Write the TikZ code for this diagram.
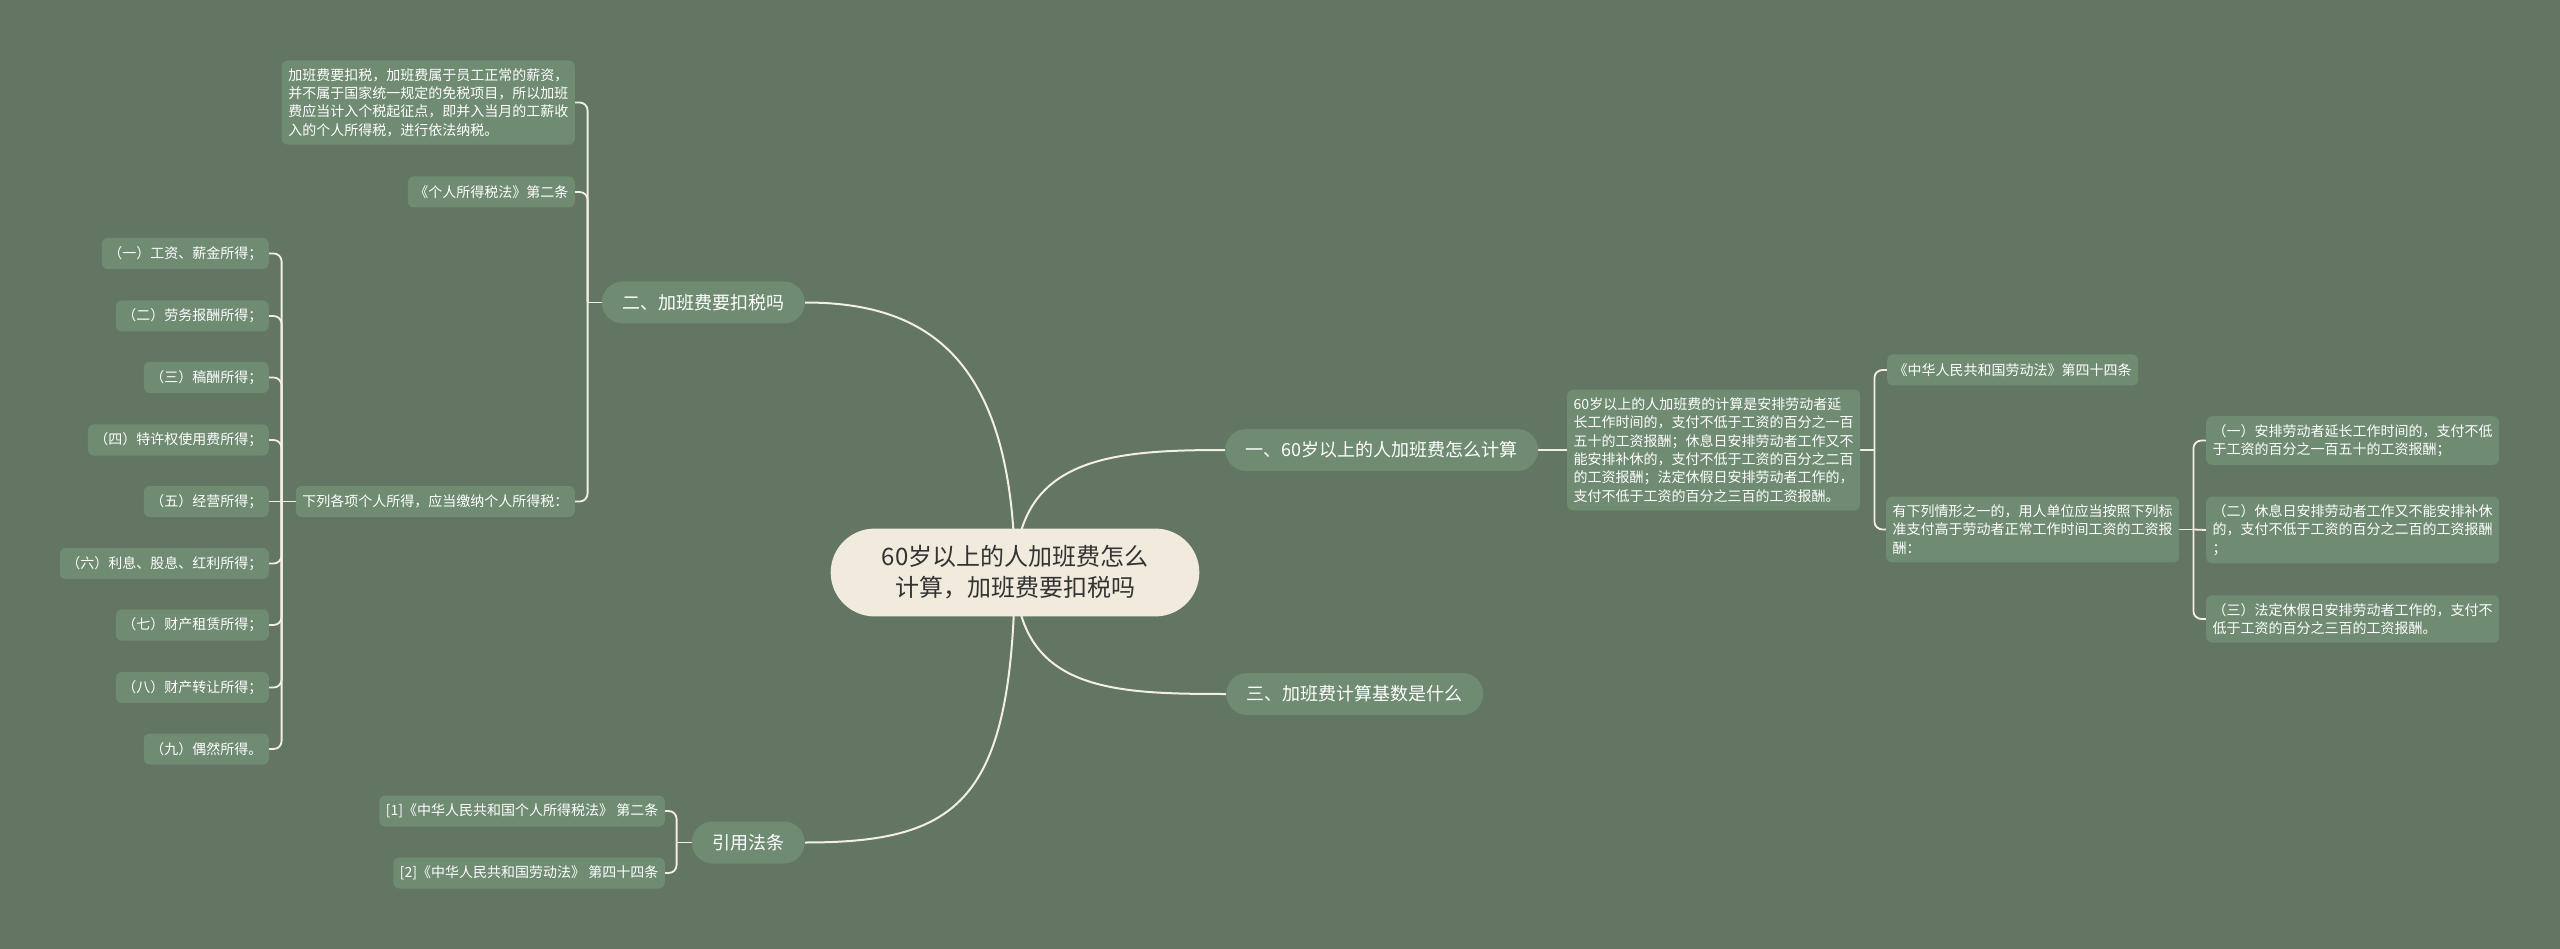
\documentclass[tikz,border=0pt]{standalone}
\usepackage{fontspec}
\newfontfamily\cjk{Noto Sans CJK SC}
\usetikzlibrary{calc}
\pgfdeclarelayer{canvas}
\pgfdeclarelayer{edges}
\pgfsetlayers{canvas,edges,main}
\definecolor{bgc}{HTML}{637664}
\definecolor{nodec}{HTML}{6F8B72}
\definecolor{rootc}{HTML}{F0EBDC}
\definecolor{linec}{HTML}{F3EFE2}
\definecolor{roottext}{HTML}{333333}
\tikzset{
  leaf/.style={fill=nodec, text=white, font=\cjk\fontsize{14pt}{18.3pt}\selectfont,
    rounded corners=6pt, inner xsep=6.5pt, inner ysep=8pt, align=left},
  single/.style={leaf, minimum height=31pt},
  branch/.style={fill=nodec, text=white, font=\cjk\fontsize{18pt}{22pt}\selectfont,
    rounded corners=21pt, inner xsep=20.5pt, inner ysep=0pt, minimum height=42pt},
  rootnode/.style={fill=rootc, text=roottext, font=\cjk\fontsize{24pt}{31pt}\selectfont,
    rounded corners=44pt, inner xsep=51pt, inner ysep=17pt, align=center},
  link/.style={draw=linec, line width=2pt},
  bracket/.style={draw=linec, line width=1.8pt, rounded corners=8pt},
}
\begin{document}
\begin{tikzpicture}[x=1pt,y=-1pt]
\useasboundingbox (0,0) rectangle (2560,949);
\begin{pgfonlayer}{canvas}
  \fill[bgc] (0,0) rectangle (2560,949);
\end{pgfonlayer}

% root and branches
\node[rootnode] (root) at (1015,572.5) {60岁以上的人加班费怎么\\计算，加班费要扣税吗};
\node[branch, anchor=east] (b2) at (805,302.5) {二、加班费要扣税吗};
\node[branch, anchor=west] (b1) at (1225,450) {一、60岁以上的人加班费怎么计算};
\node[branch, anchor=west] (b3) at (1226,694) {三、加班费计算基数是什么};
\node[branch, anchor=east] (b4) at (805,842.5) {引用法条};

% left: branch 2 children
\node[leaf, anchor=east] (p1) at (575,102.5) {加班费要扣税，加班费属于员工正常的薪资，\\并不属于国家统一规定的免税项目，所以加班\\费应当计入个税起征点，即并入当月的工薪收\\入的个人所得税，进行依法纳税。};
\node[single, anchor=east] (p2) at (575,192) {《个人所得税法》第二条};
\node[single, anchor=east] (p3) at (575,501.5) {下列各项个人所得，应当缴纳个人所得税：};

\node[single, anchor=east] (i1) at (269,253.5) {（一）工资、薪金所得；};
\node[single, anchor=east] (i2) at (269,316) {（二）劳务报酬所得；};
\node[single, anchor=east] (i3) at (269,377.5) {（三）稿酬所得；};
\node[single, anchor=east] (i4) at (269,440) {（四）特许权使用费所得；};
\node[single, anchor=east] (i5) at (269,501.5) {（五）经营所得；};
\node[single, anchor=east] (i6) at (269,563.5) {（六）利息、股息、红利所得；};
\node[single, anchor=east] (i7) at (269,625) {（七）财产租赁所得；};
\node[single, anchor=east] (i8) at (269,687.5) {（八）财产转让所得；};
\node[single, anchor=east] (i9) at (269,749) {（九）偶然所得。};

% left: references
\node[single, anchor=east] (r1) at (665,811) {[1]《中华人民共和国个人所得税法》 第二条};
\node[single, anchor=east] (r2) at (665,873) {[2]《中华人民共和国劳动法》 第四十四条};

% right: branch 1 children
\node[leaf, anchor=west] (q1) at (1567,450) {60岁以上的人加班费的计算是安排劳动者延\\长工作时间的，支付不低于工资的百分之一百\\五十的工资报酬；休息日安排劳动者工作又不\\能安排补休的，支付不低于工资的百分之二百\\的工资报酬；法定休假日安排劳动者工作的，\\支付不低于工资的百分之三百的工资报酬。};
\node[single, anchor=west] (q2) at (1887,370) {《中华人民共和国劳动法》第四十四条};
\node[leaf, anchor=west] (q3) at (1886,529.5) {有下列情形之一的，用人单位应当按照下列标\\准支付高于劳动者正常工作时间工资的工资报\\酬：};

\node[leaf, anchor=west] (s1) at (2206,440.5) {（一）安排劳动者延长工作时间的，支付不低\\于工资的百分之一百五十的工资报酬；};
\node[leaf, anchor=west] (s2) at (2206,530) {（二）休息日安排劳动者工作又不能安排补休\\的，支付不低于工资的百分之二百的工资报酬\\；};
\node[leaf, anchor=west] (s3) at (2206,619) {（三）法定休假日安排劳动者工作的，支付不\\低于工资的百分之三百的工资报酬。};

\begin{pgfonlayer}{edges}
  % main curves from root
  \draw[link] (root.center) .. controls ($(root.center)+(-2,-212)$) and ($(b2.east)+(125,0)$) .. (b2.east);
  \draw[link] (root.center) .. controls ($(root.center)+(3,-115)$) and ($(b1.west)+(-115,0)$) .. (b1.west);
  \draw[link] (root.center) .. controls ($(root.center)+(3,118)$) and ($(b3.west)+(-116,0)$) .. (b3.west);
  \draw[link] (root.center) .. controls ($(root.center)+(-3,228)$) and ($(b4.east)+(155,0)$) .. (b4.east);

  % branch 2 bracket
  \draw[bracket] (b2.west) -- ++(-14,0) coordinate (j2);
  \draw[bracket] (j2) |- (p1.east);
  \draw[bracket] (j2) |- (p2.east);
  \draw[bracket] (j2) |- (p3.east);

  % income items bracket
  \draw[bracket] (p3.west) -- ++(-14,0) coordinate (j3);
  \draw[bracket] (j3) |- (i1.east);
  \draw[bracket] (j3) |- (i2.east);
  \draw[bracket] (j3) |- (i3.east);
  \draw[bracket] (j3) |- (i4.east);
  \draw[bracket] (j3) -- (i5.east);
  \draw[bracket] (j3) |- (i6.east);
  \draw[bracket] (j3) |- (i7.east);
  \draw[bracket] (j3) |- (i8.east);
  \draw[bracket] (j3) |- (i9.east);

  % references bracket
  \draw[bracket] (b4.west) -- ++(-15,0) coordinate (j4);
  \draw[bracket] (j4) |- (r1.east);
  \draw[bracket] (j4) |- (r2.east);

  % right side
  \draw[link] (b1.east) -- (q1.west);
  \draw[bracket] (q1.east) -- ++(14,0) coordinate (j5);
  \draw[bracket] (j5) |- (q2.west);
  \draw[bracket] (j5) |- (q3.west);

  \draw[bracket] (q3.east) -- ++(14,0) coordinate (j6);
  \draw[bracket] (j6) |- (s1.west);
  \draw[bracket] (j6) -- (s2.west);
  \draw[bracket] (j6) |- (s3.west);
\end{pgfonlayer}
\end{tikzpicture}
\end{document}
